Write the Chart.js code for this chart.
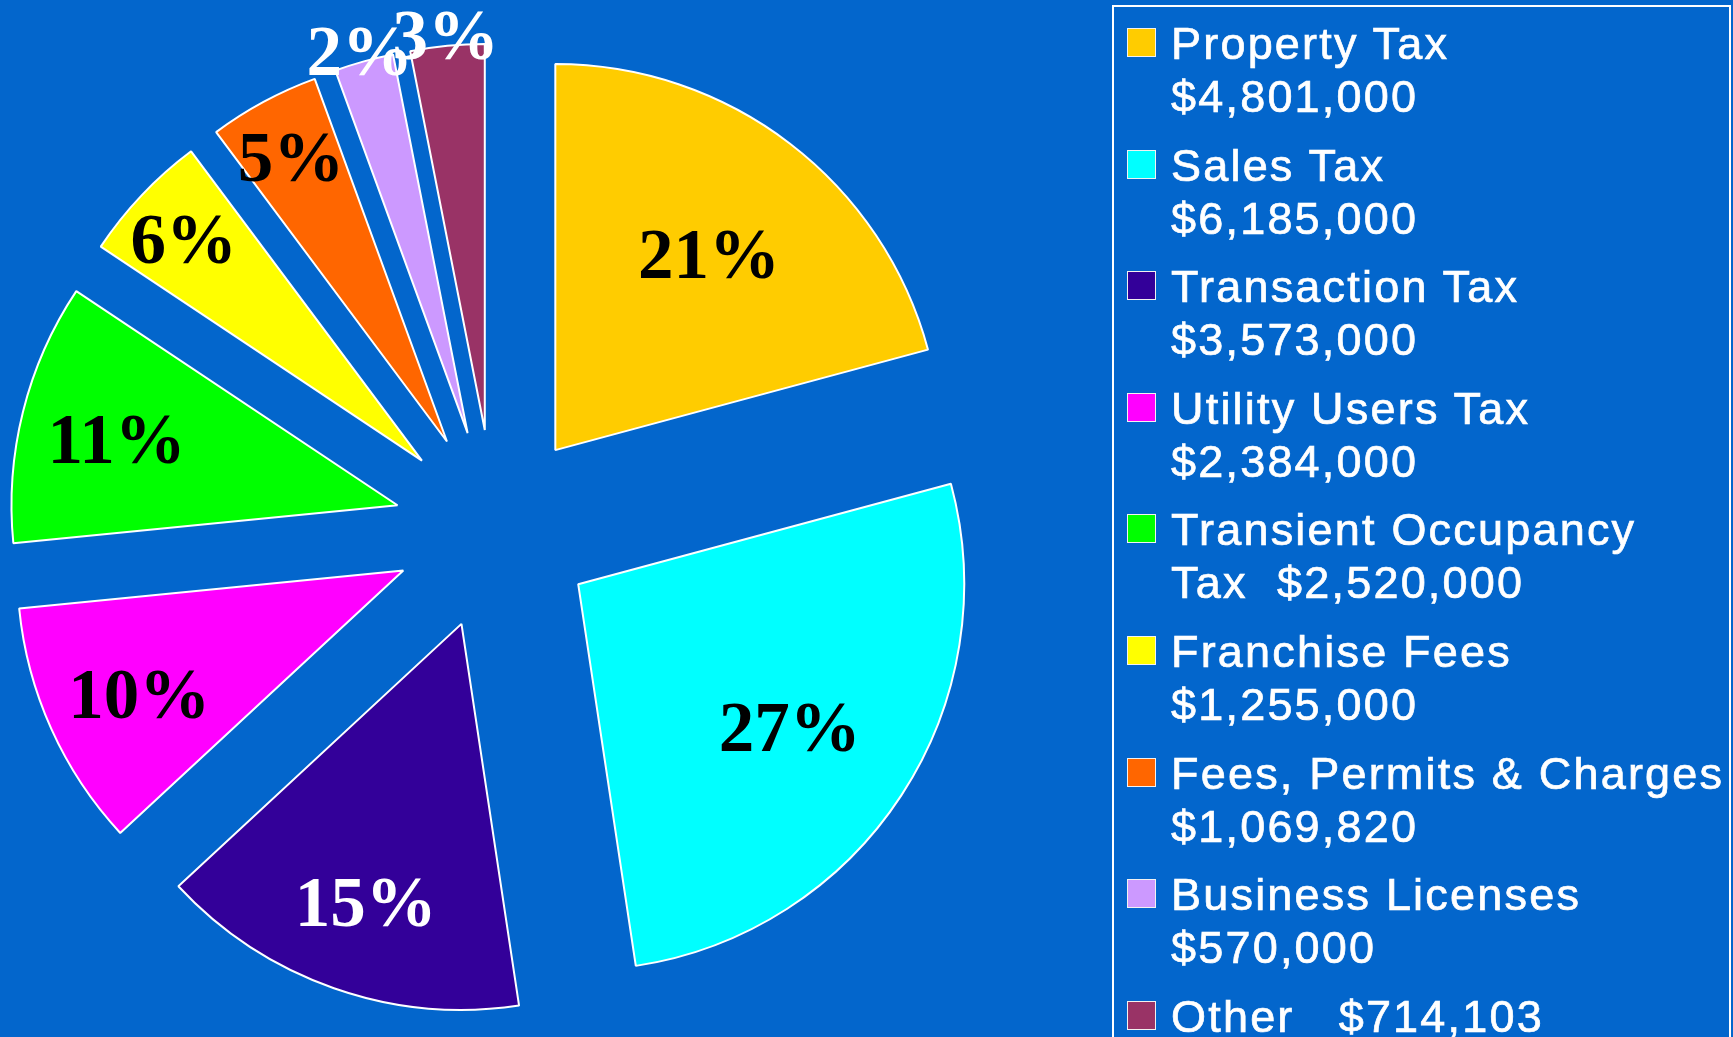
<!DOCTYPE html>
<html>
<head>
<meta charset="utf-8">
<script src="https://cdn.jsdelivr.net/npm/chart.js@4/dist/chart.umd.min.js"></script>
<style>
  html, body { margin: 0; padding: 0; background: #0366CC; overflow: hidden; }
  #wrap { position: relative; width: 1733px; height: 1037px; background: #0366CC; overflow: hidden; }
  #chart { position: absolute; left: 0; top: 0; }
  #legend {
    position: absolute; left: 1112px; top: 5px; width: 615px; height: 1100px;
    border: 2px solid #ffffff; box-sizing: content-box; padding-top: 10px;
    font-family: "Liberation Sans", Arial, sans-serif; font-size: 45px; color: #ffffff;
    letter-spacing: 2.2px; -webkit-text-stroke: 0.7px #ffffff;
  }
  .item { position: relative; padding-left: 57px; line-height: 53px; margin-bottom: 15.6px; white-space: pre; }
  .sw { position: absolute; left: 13px; top: 11px; width: 29px; height: 29px; box-sizing: border-box; border: 1.5px solid #f2f2f2; }
</style>
</head>
<body>
<div id="wrap">
  <canvas id="chart" width="1733" height="1037"></canvas>
  <div id="legend"></div>
</div>
<script>
// ---- data ----
const categories = [
  "Property Tax", "Sales Tax", "Transaction Tax", "Utility Users Tax",
  "Transient Occupancy Tax", "Franchise Fees", "Fees, Permits & Charges",
  "Business Licenses", "Other"
];
const values = [4801000, 6185000, 3573000, 2384000, 2520000, 1255000, 1069820, 570000, 714103];
const percentLabels = ["21%", "27%", "15%", "10%", "11%", "6%", "5%", "2%", "3%"];
const legendLines = [
  ["Property Tax", "$4,801,000"],
  ["Sales Tax", "$6,185,000"],
  ["Transaction Tax", "$3,573,000"],
  ["Utility Users Tax", "$2,384,000"],
  ["Transient Occupancy", "Tax  $2,520,000"],
  ["Franchise Fees", "$1,255,000"],
  ["Fees, Permits & Charges", "$1,069,820"],
  ["Business Licenses", "$570,000"],
  ["Other   $714,103"]
];

// ---- styles ----
const sliceColors = ["#FFCC00", "#00FFFF", "#330099", "#FF00FF", "#00FF00", "#FFFF00", "#FF6600", "#CC99FF", "#993366"];
const labelColors = ["#000000", "#000000", "#ffffff", "#000000", "#000000", "#000000", "#000000", "#ffffff", "#ffffff"];
const EXPLODE = 100;
const LABEL_FONT_SIZE = 71;

// radial position of a label, as a fraction of the radius, by slice share
function labelFactor(share) {
  if (share >= 0.2) return 0.655;
  if (share >= 0.09) return 0.75;
  if (share >= 0.04) return 0.85;
  return 1.04;
}

const explodePlugin = {
  id: 'explode',
  beforeDatasetDraw(chart, args) {
    const ctx = chart.ctx;
    args.meta.data.forEach(arc => {
      const mid = (arc.startAngle + arc.endAngle) / 2;
      ctx.save();
      ctx.translate(Math.cos(mid) * EXPLODE, Math.sin(mid) * EXPLODE);
      arc.draw(ctx, chart.chartArea);
      ctx.restore();
    });
    return false;
  }
};

const labelPlugin = {
  id: 'pctLabels',
  afterDatasetsDraw(chart) {
    const ctx = chart.ctx;
    const meta = chart.getDatasetMeta(0);
    const data = chart.data.datasets[0].data;
    const total = data.reduce((a, b) => a + b, 0);
    ctx.save();
    ctx.font = 'bold ' + LABEL_FONT_SIZE + 'px "Liberation Serif", "Times New Roman", serif';
    ctx.textAlign = 'center';
    ctx.textBaseline = 'alphabetic';
    meta.data.forEach((arc, i) => {
      const mid = (arc.startAngle + arc.endAngle) / 2;
      const r = EXPLODE + labelFactor(data[i] / total) * arc.outerRadius;
      const x = arc.x + Math.cos(mid) * r;
      const y = arc.y + Math.sin(mid) * r;
      ctx.fillStyle = labelColors[i];
      ctx.fillText(percentLabels[i], x, y + LABEL_FONT_SIZE * 0.40);
    });
    ctx.restore();
  }
};

new Chart(document.getElementById('chart'), {
  type: 'pie',
  data: {
    labels: categories,
    datasets: [{
      data: values,
      backgroundColor: sliceColors,
      borderColor: '#ffffff',
      borderWidth: 2,
      radius: 386
    }]
  },
  options: {
    responsive: false,
    animation: false,
    events: [],
    layout: { padding: { left: 0, right: 744, top: 22, bottom: 0 } },
    plugins: { legend: { display: false }, tooltip: { enabled: false } }
  },
  plugins: [explodePlugin, labelPlugin]
});

// ---- HTML legend ----
const legend = document.getElementById('legend');
categories.forEach((c, i) => {
  const item = document.createElement('div');
  item.className = 'item';
  const sw = document.createElement('span');
  sw.className = 'sw';
  sw.style.background = sliceColors[i];
  item.appendChild(sw);
  item.appendChild(document.createTextNode(legendLines[i].join('\n')));
  legend.appendChild(item);
});
</script>
</body>
</html>
